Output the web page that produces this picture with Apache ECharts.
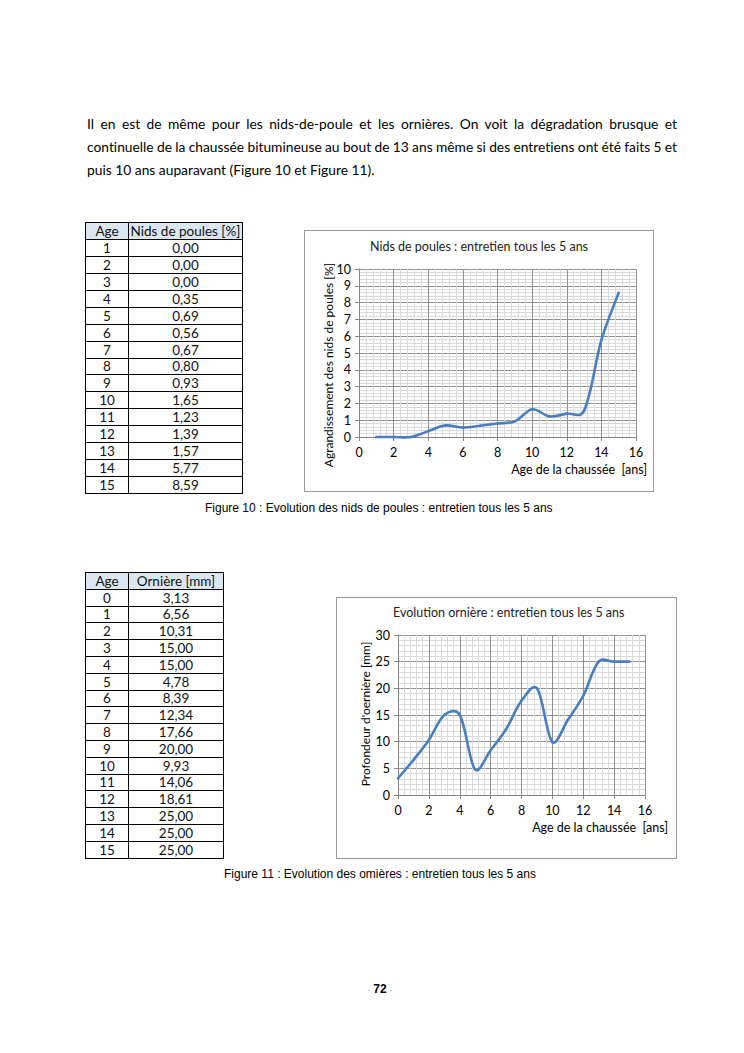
<!DOCTYPE html>
<html><head><meta charset="utf-8">
<script src="https://cdn.jsdelivr.net/npm/echarts/dist/echarts.min.js"></script>
<style>
html,body{margin:0;padding:0;background:#fff;}
body{width:744px;height:1053px;position:relative;overflow:hidden;font-family:Lato,"Open Sans",sans-serif;color:#000;font-variant-ligatures:none;font-feature-settings:"liga" 0,"clig" 0;}
.para{position:absolute;left:87px;width:590px;font-size:13.8px;line-height:23px;}
.para div{white-space:nowrap;height:23px;}
table.t{position:absolute;border-collapse:collapse;font-family:Lato,sans-serif;font-size:13.5px;table-layout:fixed;color:#111;}
table.t td{border:1px solid #000;text-align:center;padding:0;line-height:14px;}
table.t tr.h td{background:#dce6f1;}
.cap{position:absolute;font-family:"Liberation Sans",Arial,sans-serif;font-size:12px;white-space:nowrap;}
.box{position:absolute;box-sizing:border-box;border:1px solid #9a9a9a;}
.ch{position:absolute;}
.ch text{font-variant-ligatures:none;font-feature-settings:"liga" 0,"clig" 0;}
.pg{position:absolute;left:360px;top:982px;width:40px;text-align:center;font-family:"Liberation Sans",Arial,sans-serif;font-weight:bold;font-size:12px;}
.pg span{font-size:5px;font-weight:normal;vertical-align:middle;}
</style>
</head><body>
<div class="para" style="top:112px;">
  <div class="j"><span>Il en est de même pour les nids-de-poule et les ornières. On voit la dégradation brusque et</span></div>
  <div class="j"><span>continuelle de la chaussée bitumineuse au bout de 13 ans même si des entretiens ont été faits 5 et</span></div>
  <div><span>puis 10 ans auparavant (Figure 10 et Figure 11).</span></div>
</div>

<table class="t" id="tab1" style="left:85px;top:222px;width:157px;"></table>
<table class="t" id="tab2" style="left:85px;top:572px;width:138px;"></table>

<div class="box" style="left:304px;top:230px;width:350px;height:262px;"></div>
<div class="ch" id="c1" style="left:304px;top:230px;width:350px;height:262px;"></div>
<div class="cap" id="cap1" style="left:205px;top:501px;">Figure 10 : Evolution des nids de poules : entretien tous les 5 ans</div>

<div class="box" style="left:336px;top:597px;width:341px;height:262px;"></div>
<div class="ch" id="c2" style="left:336px;top:597px;width:341px;height:262px;"></div>
<div class="cap" id="cap2" style="left:224px;top:867px;">Figure 11 : Evolution des omières : entretien tous les 5 ans</div>

<div class="pg"><span>-</span> 72 <span>-</span></div>

<script>
// ---- data ----
const ages1 = [1, 2, 3, 4, 5, 6, 7, 8, 9, 10, 11, 12, 13, 14, 15];
const nidsPoules = [0.00, 0.00, 0.00, 0.35, 0.69, 0.56, 0.67, 0.80, 0.93, 1.65, 1.23, 1.39, 1.57, 5.77, 8.59];
const ages2 = [0, 1, 2, 3, 4, 5, 6, 7, 8, 9, 10, 11, 12, 13, 14, 15];
const orniere = [3.13, 6.56, 10.31, 15.00, 15.00, 4.78, 8.39, 12.34, 17.66, 20.00, 9.93, 14.06, 18.61, 25.00, 25.00, 25.00];
const header1 = ['Age', 'Nids de poules [%]'];
const header2 = ['Age', 'Ornière [mm]'];

// ---- justify paragraph lines ----
document.querySelectorAll('.para .j').forEach(function (d) {
  const s = d.querySelector('span');
  const w = s.getBoundingClientRect().width;
  const n = (s.textContent.match(/ /g) || []).length;
  s.style.wordSpacing = ((590 - w) / n) + 'px';
});

// ---- tables ----
function fmt(v) { return v.toFixed(2).replace('.', ','); }
function buildTable(id, header, xs, ys, colW, rowH, noBorderBefore) {
  const t = document.getElementById(id);
  let html = '<colgroup><col style="width:' + colW[0] + 'px"><col style="width:' + colW[1] + 'px"></colgroup>';
  html += '<tr class="h" style="height:' + rowH + 'px"><td>' + header[0] + '</td><td>' + header[1] + '</td></tr>';
  xs.forEach(function (x, i) {
    const st = (noBorderBefore === i) ? 'border-top:none;' : '';
    html += '<tr style="height:' + rowH + 'px"><td style="' + st + '">' + x + '</td><td style="' + st + '">' + fmt(ys[i]) + '</td></tr>';
  });
  t.innerHTML = html;
}
buildTable('tab1', header1, ages1, nidsPoules, [43, 114], 16.95, 14);
buildTable('tab2', header2, ages2, orniere, [43, 95], 16.8, -1);

// ---- charts ----
const FONT = 'Lato';
// Smoothed curve (Catmull-Rom blended with length weighting, like the spreadsheet's smoothed line), drawn per segment
function smoothSegment(params, api) {
  const i = params.dataIndexInside;
  const n = params.dataInsideLength;
  if (i >= n - 1) return null;
  const P = function (k) { return api.coord([api.value(0, k), api.value(1, k)]); };
  const D = function (a, b) { return Math.hypot(a[0] - b[0], a[1] - b[1]); };
  const p0 = P(Math.max(i - 1, 0)), p1 = P(i), p2 = P(i + 1), p3 = P(Math.min(i + 2, n - 1));
  const d01 = D(p0, p1), d12 = D(p1, p2), d23 = D(p2, p3);
  const w1 = (d01 + d12) > 0 ? d12 / (d01 + d12) / 3 : 0;
  const w2 = (d12 + d23) > 0 ? d12 / (d12 + d23) / 3 : 0;
  const f1 = 0.5 * (w1 + 1 / 6), f2 = 0.5 * (w2 + 1 / 6);
  return {
    type: 'bezierCurve',
    shape: {
      x1: p1[0], y1: p1[1], x2: p2[0], y2: p2[1],
      cpx1: p1[0] + (p2[0] - p0[0]) * f1, cpy1: p1[1] + (p2[1] - p0[1]) * f1,
      cpx2: p2[0] - (p3[0] - p1[0]) * f2, cpy2: p2[1] - (p3[1] - p1[1]) * f2
    },
    style: { stroke: '#4a7ebb', lineWidth: 2.6, fill: null, lineCap: 'round' }
  };
}
function makeChart(el, cfg) {
  const chart = echarts.init(document.getElementById(el), null, { renderer: 'svg' });
  const axisCommon = {
    type: 'value',
    axisLine: { show: true, lineStyle: { color: '#868686', width: 1 } },
    axisTick: { show: true, length: 4, lineStyle: { color: '#868686' } },
    axisLabel: { color: '#000', fontFamily: FONT, fontSize: 12.5 },
    splitLine: { show: true, lineStyle: { color: '#8f8f8f', width: 1 } },
    minorTick: { show: false, splitNumber: 5 },
    minorSplitLine: { show: true, lineStyle: { color: '#d9d9d9', width: 1 } }
  };
  chart.setOption({
    animation: false,
    grid: cfg.grid,
    xAxis: Object.assign({}, axisCommon, { min: 0, max: 16, interval: 2,
      axisLabel: Object.assign({}, axisCommon.axisLabel, { margin: 9 }) }),
    yAxis: Object.assign({}, axisCommon, { min: 0, max: cfg.ymax, interval: cfg.yint,
      axisLabel: Object.assign({}, axisCommon.axisLabel, { margin: 8 }) }),
    series: [{
      type: 'custom',
      coordinateSystem: 'cartesian2d',
      data: cfg.xs.map(function (x, i) { return [x, cfg.ys[i]]; }),
      encode: { x: 0, y: 1 },
      renderItem: smoothSegment,
      clip: false
    }],
    graphic: [
      { type: 'text', left: cfg.title.left, top: cfg.title.top,
        style: { text: cfg.title.text, font: '12.5px ' + FONT, fill: '#222' } },
      { type: 'text', x: cfg.yname.x, y: cfg.yname.y, rotation: Math.PI / 2,
        style: { text: cfg.yname.text, font: '12px ' + FONT, fill: '#000', align: 'center', verticalAlign: 'middle' } },
      { type: 'text', right: cfg.xname.right, top: cfg.xname.top,
        style: { text: cfg.xname.text, font: '12.5px ' + FONT, fill: '#000' } }
    ]
  });
  return chart;
}

makeChart('c1', {
  grid: { left: 55, right: 18, top: 39, bottom: 55 },
  ymax: 10, yint: 1, xs: ages1, ys: nidsPoules,
  title: { text: 'Nids de poules : entretien tous les 5 ans', left: 'center', top: 10 },
  yname: { text: 'Agrandissement des nids de poules [%]', x: 24, y: 135 },
  xname: { text: 'Age de la chaussée  [ans]', right: 7, top: 233 }
});
makeChart('c2', {
  grid: { left: 62, right: 32, top: 38, bottom: 64 },
  ymax: 30, yint: 5, xs: ages2, ys: orniere,
  title: { text: 'Evolution ornière : entretien tous les 5 ans', left: 57, top: 9 },
  yname: { text: "Profondeur d'oernière [mm]", x: 29, y: 117 },
  xname: { text: 'Age de la chaussée  [ans]', right: 9, top: 224 }
});
</script>
</body></html>
